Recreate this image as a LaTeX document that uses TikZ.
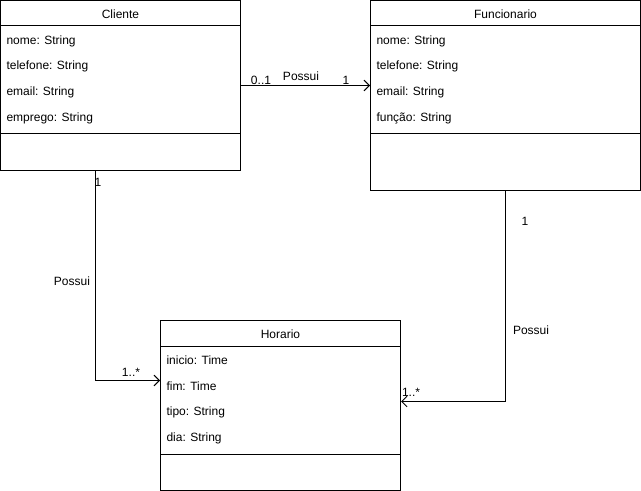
\documentclass[tikz,border=0pt]{standalone}
\usepackage{fontspec}
\setmainfont{Liberation Sans}
\usetikzlibrary{positioning, arrows.meta, calc}

\begin{document}
\begin{tikzpicture}[
    x=0.75pt, y=-0.75pt,
    line width=0.75pt,
    font=\fontsize{9}{11}\selectfont,
    classbox/.style={draw, rectangle, anchor=north west, inner sep=0pt},
    attr/.style={anchor=west, inner sep=0pt},
    mult/.style={inner sep=0pt},
    assoc/.style={-{Straight Barb[length=4pt,width=8pt]}}
]
    \useasboundingbox (0,0) rectangle (641,491);

    % Class Cliente
    \node[classbox, minimum width=180pt, minimum height=127.5pt] (cliente) at (0,0) {};
    \node (clienteTitle) at ($(cliente.north)+(0,14)$) {Cliente};
    \node[attr] (clienteNome) at ($(cliente.north west)+(6,41)$) {nome: String};
    \node[attr] (clienteFone) at ($(cliente.north west)+(6,66)$) {telefone: String};
    \node[attr] (clienteEmail) at ($(cliente.north west)+(6,92)$) {email: String};
    \node[attr] (clienteEmprego) at ($(cliente.north west)+(6,118)$) {emprego: String};
    \draw ($(cliente.north west)+(0,26)$) -- ($(cliente.north east)+(0,26)$);
    \draw ($(cliente.north west)+(0,134)$) -- ($(cliente.north east)+(0,134)$);

    % Class Funcionario
    \node[classbox, minimum width=202.5pt, minimum height=142.5pt] (funcionario) at (370,0) {};
    \node (funcionarioTitle) at ($(funcionario.north)+(0,14)$) {Funcionario};
    \node[attr] (funcionarioNome) at ($(funcionario.north west)+(6,41)$) {nome: String};
    \node[attr] (funcionarioFone) at ($(funcionario.north west)+(6,66)$) {telefone: String};
    \node[attr] (funcionarioEmail) at ($(funcionario.north west)+(6,92)$) {email: String};
    \node[attr] (funcionarioFuncao) at ($(funcionario.north west)+(6,118)$) {função: String};
    \draw ($(funcionario.north west)+(0,26)$) -- ($(funcionario.north east)+(0,26)$);
    \draw ($(funcionario.north west)+(0,134)$) -- ($(funcionario.north east)+(0,134)$);

    % Class Horario
    \node[classbox, minimum width=180pt, minimum height=127.5pt] (horario) at (160,320) {};
    \node (horarioTitle) at ($(horario.north)+(0,14)$) {Horario};
    \node[attr] (horarioInicio) at ($(horario.north west)+(6,40)$) {inicio: Time};
    \node[attr] (horarioFim) at ($(horario.north west)+(6,66)$) {fim: Time};
    \node[attr] (horarioTipo) at ($(horario.north west)+(6,92)$) {tipo: String};
    \node[attr] (horarioDia) at ($(horario.north west)+(6,118)$) {dia: String};
    \draw ($(horario.north west)+(0,26)$) -- ($(horario.north east)+(0,26)$);
    \draw ($(horario.north west)+(0,134)$) -- ($(horario.north east)+(0,134)$);

    % Associations
    \coordinate (clienteFoot) at ($(cliente.south)+(-25,0)$);
    \coordinate (horarioLeft) at ($(horario.west)+(0,-25)$);
    \coordinate (horarioRight) at ($(horario.east)+(0,-4)$);

    \draw[assoc] (cliente.east) -- (cliente.east -| funcionario.west);
    \draw[assoc] (clienteFoot) |- (horarioLeft);
    \draw[assoc] (funcionario.south) |- (horarioRight);

    % Labels
    \node[mult] (multA1) at (261,80) {0..1};
    \node[mult] (possuiA) at (301,76) {Possui};
    \node[mult] (multA2) at (346,80) {1};
    \node[mult] (multB1) at (98,182) {1};
    \node[mult] (possuiB) at (72,281) {Possui};
    \node[mult] (multB2) at (131,372) {1..*};
    \node[mult] (multC1) at (525,221) {1};
    \node[mult] (possuiC) at (531,330) {Possui};
    \node[mult] (multC2) at (411,392) {1..*};
\end{tikzpicture}
\end{document}
